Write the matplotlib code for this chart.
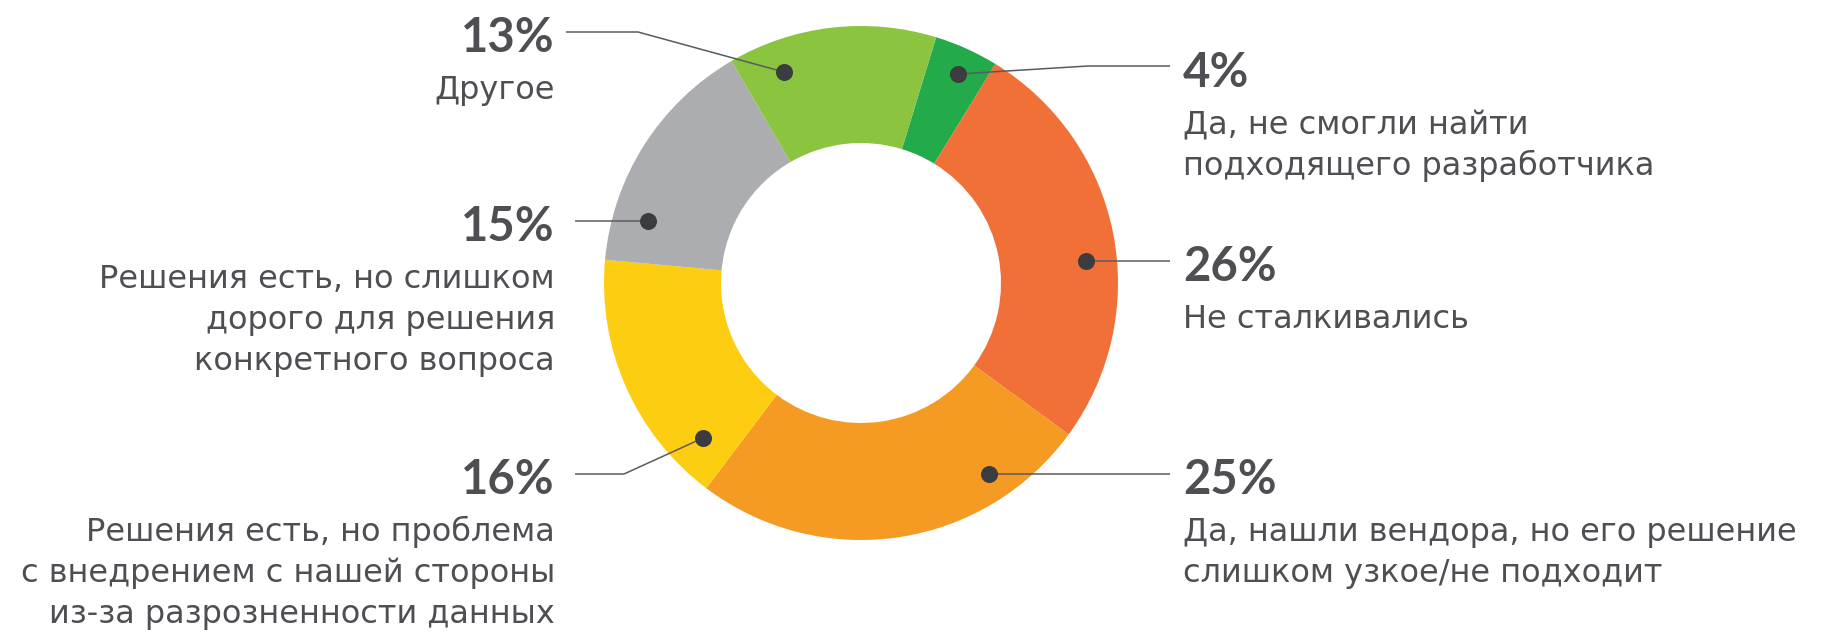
import matplotlib
matplotlib.use('Agg')
import matplotlib.pyplot as plt
from matplotlib import font_manager as fm

# данные (по часовой стрелке, начиная с тёмно-зелёного сектора)
shares = [4, 26, 25, 16, 15, 13]
pct_labels = ['4%', '26%', '25%', '16%', '15%', '13%']
descriptions = [
    'Да, не смогли найти\nподходящего разработчика',
    'Не сталкивались',
    'Да, нашли вендора, но его решение\nслишком узкое/не подходит',
    'Решения есть, но проблема\nс внедрением с нашей стороны\nиз-за разрозненности данных',
    'Решения есть, но слишком\nдорого для решения\nконкретного вопроса',
    'Другое',
]
colors = ['#22AA4B', '#F07037', '#F59A23', '#FCCD10', '#ACADB0', '#8BC53F']

W, H = 1825, 633
txt_col = '#4D4F53'

bold_fp = fm.FontProperties(family=['Lato', 'DejaVu Sans'], weight='bold')
desc_fp = fm.FontProperties(family='DejaVu Sans')

fig = plt.figure(figsize=(W / 100, H / 100), dpi=100)
ax = fig.add_axes([0, 0, 1, 1])

def Y(y):
    # пиксели сверху -> координаты осей снизу
    return H - y

cx, cy = 861, 283
ax.pie(shares, colors=colors, startangle=73, counterclock=False,
       radius=257, center=(cx, Y(cy)),
       wedgeprops=dict(width=117, linewidth=0))

# точки и выноски (в пикселях)
dots = [(958, 74), (1086, 261), (989, 474), (703, 438), (648, 221), (784, 72)]
leaders = [
    [(958, 74), (1088, 66), (1170, 66)],
    [(1086, 261), (1170, 261)],
    [(989, 474), (1170, 474)],
    [(703, 438), (624, 474), (575, 474)],
    [(648, 221), (575, 221)],
    [(784, 72), (638, 32), (566, 32)],
]
for path in leaders:
    xs = [p[0] for p in path]
    ys = [Y(p[1]) for p in path]
    ax.plot(xs, ys, color='#5A5B5E', lw=1.1, solid_capstyle='butt', zorder=3)
for x, y in dots:
    ax.scatter([x], [Y(y)], s=150, color='#3B3C3F', zorder=4, linewidths=0)

# подписи: x, базовая линия процента, выравнивание
label_pos = [(1183, 87, 'left'), (1183, 281, 'left'), (1183, 494, 'left'),
             (555, 494, 'right'), (555, 241, 'right'), (555, 52, 'right')]
for (x, b, ha), pct, desc in zip(label_pos, pct_labels, descriptions):
    ax.text(x, Y(b), pct, ha=ha, va='baseline', fontproperties=bold_fp,
            fontsize=34, color=txt_col)
    for i, line in enumerate(desc.split('\n')):
        ax.text(x, Y(b + 47 + 41 * i), line, ha=ha, va='baseline',
                fontproperties=desc_fp, fontsize=23, color=txt_col)

ax.set_xlim(0, W)
ax.set_ylim(0, H)
ax.set_aspect('equal')
ax.axis('off')

fig.savefig('out.png', dpi=100)
